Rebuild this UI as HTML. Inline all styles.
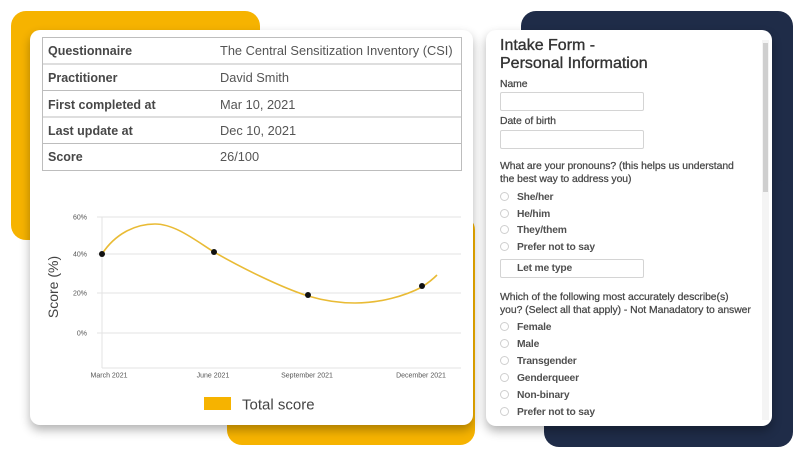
<!DOCTYPE html>
<html><head><meta charset="utf-8"><style>
*{margin:0;padding:0;box-sizing:border-box}
html,body{width:800px;height:462px;background:#fff;overflow:hidden;font-family:"Liberation Sans",sans-serif}
.a{position:absolute}
.t{position:absolute;white-space:nowrap;color:#444}
.c1{font-size:12.5px;font-weight:bold;color:#474747;left:48px}
.c2{font-size:12.8px;color:#555;left:220px}
.fl{font-size:10.4px;color:#474747;left:500px;letter-spacing:-0.05px;-webkit-text-stroke:0.25px #474747}
.rl{font-size:10.3px;color:#505050;left:517px;font-weight:bold;letter-spacing:-0.2px}
.rd{position:absolute;left:500px;width:9px;height:9px;border:1px solid #cfcfcf;border-radius:50%;background:#fff}
.inp{position:absolute;left:500px;width:144px;height:19px;border:1px solid #d4d4d4;border-radius:2px;background:#fff}
</style></head><body>
<!-- background shapes -->
<div class="a" style="left:11px;top:11px;width:249px;height:229px;background:#f6b300;border-radius:15px"></div>
<div class="a" style="left:227px;top:215px;width:248px;height:230px;background:#f6b300;border-radius:15px"></div>
<div class="a" style="left:521px;top:11px;width:272px;height:200px;background:#1f2c48;border-radius:15px"></div>
<div class="a" style="left:544px;top:180px;width:249px;height:267px;background:#1f2c48;border-radius:15px"></div>
<!-- cards -->
<div class="a" style="left:30px;top:30px;width:443px;height:395px;background:#fff;border-radius:10px;box-shadow:0 5px 10px rgba(0,0,0,0.3)"></div>
<div class="a" style="left:486px;top:30px;width:286px;height:396px;background:#fff;border-radius:10px;box-shadow:0 5px 10px rgba(0,0,0,0.3)"></div>

<svg class="a" style="left:0;top:0" width="800" height="462" viewBox="0 0 800 462">
  <!-- table -->
  <g stroke="#bdbdbd" stroke-width="1" fill="none">
    <rect x="42.5" y="37.5" width="419" height="133"/>
    <line x1="42" y1="64" x2="462" y2="64"/>
    <line x1="42" y1="90.5" x2="462" y2="90.5"/>
    <line x1="42" y1="117" x2="462" y2="117"/>
    <line x1="42" y1="143.5" x2="462" y2="143.5"/>
  </g>
  <!-- grid -->
  <g stroke="#e3e3e3" stroke-width="1">
    <line x1="97" y1="217" x2="461" y2="217"/>
    <line x1="97" y1="254" x2="461" y2="254"/>
    <line x1="97" y1="293" x2="461" y2="293"/>
    <line x1="97" y1="333" x2="461" y2="333"/>
    <line x1="102" y1="217" x2="102" y2="368"/>
    <line x1="102" y1="368" x2="461" y2="368"/>
  </g>
  <path d="M102,254 C115,234 135,224 155,224 C175,224 195,240 214,252 C240,267 280,287 308,296 C325,301 340,303 355,303 C380,303 405,296 422,287 C428,283 433,279 437,275" fill="none" stroke="#e9bb35" stroke-width="1.6"/>
  <g fill="#111">
    <circle cx="102" cy="254" r="3"/>
    <circle cx="214" cy="252" r="3"/>
    <circle cx="308" cy="295" r="3"/>
    <circle cx="422" cy="286" r="3"/>
  </g>
  <g font-family="Liberation Sans, sans-serif" font-size="7" fill="#555" text-anchor="end">
    <text x="87" y="219.5">60%</text>
    <text x="87" y="256.5">40%</text>
    <text x="87" y="295.5">20%</text>
    <text x="87" y="335.5">0%</text>
  </g>
  <g font-family="Liberation Sans, sans-serif" font-size="7" fill="#555" text-anchor="middle">
    <text x="109" y="377.5">March 2021</text>
    <text x="213" y="377.5">June 2021</text>
    <text x="307" y="377.5">September 2021</text>
    <text x="421" y="377.5">December 2021</text>
  </g>
  <text x="0" y="0" transform="translate(58,287) rotate(-90)" font-family="Liberation Sans, sans-serif" font-size="14" fill="#444" text-anchor="middle">Score (%)</text>
  <rect x="204" y="397" width="27" height="13" fill="#f6b300"/>
  <text x="242" y="409.5" font-family="Liberation Sans, sans-serif" font-size="15" fill="#444">Total score</text>
  <!-- scrollbar -->
  <rect x="762" y="40" width="7" height="380" fill="#f4f4f4"/>
  <rect x="763" y="43" width="5" height="149" fill="#cfcfcf"/>
</svg>

<!-- table text -->
<div class="t c1" style="top:44px">Questionnaire</div>
<div class="t c2" style="top:43px">The Central Sensitization Inventory (CSI)</div>
<div class="t c1" style="top:71px">Practitioner</div>
<div class="t c2" style="top:70px">David Smith</div>
<div class="t c1" style="top:98px">First completed at</div>
<div class="t c2" style="top:97px">Mar 10, 2021</div>
<div class="t c1" style="top:124px">Last update at</div>
<div class="t c2" style="top:123px">Dec 10, 2021</div>
<div class="t c1" style="top:150px">Score</div>
<div class="t c2" style="top:149px">26/100</div>

<!-- form -->
<div class="t" style="left:500px;top:37px;font-size:16px;color:#333;line-height:18px;-webkit-text-stroke:0.35px #333">Intake Form -<br>Personal Information</div>
<div class="t fl" style="top:79px">Name</div>
<div class="inp" style="top:92px"></div>
<div class="t fl" style="top:116px">Date of birth</div>
<div class="inp" style="top:130px"></div>
<div class="t fl" style="top:160px;line-height:13px">What are your pronouns? (this helps us understand<br>the best way to address you)</div>
<div class="rd" style="top:192px"></div><div class="t rl" style="top:192px">She/her</div>
<div class="rd" style="top:209px"></div><div class="t rl" style="top:209px">He/him</div>
<div class="rd" style="top:225px"></div><div class="t rl" style="top:225px">They/them</div>
<div class="rd" style="top:242px"></div><div class="t rl" style="top:242px">Prefer not to say</div>
<div class="inp" style="top:259px"></div><div class="t rl" style="top:263px">Let me type</div>
<div class="t fl" style="top:291px;line-height:13px">Which of the following most accurately describe(s)<br>you? (Select all that apply) - Not Manadatory to answer</div>
<div class="rd" style="top:322px"></div><div class="t rl" style="top:322px">Female</div>
<div class="rd" style="top:339px"></div><div class="t rl" style="top:339px">Male</div>
<div class="rd" style="top:356px"></div><div class="t rl" style="top:356px">Transgender</div>
<div class="rd" style="top:373px"></div><div class="t rl" style="top:373px">Genderqueer</div>
<div class="rd" style="top:390px"></div><div class="t rl" style="top:390px">Non-binary</div>
<div class="rd" style="top:407px"></div><div class="t rl" style="top:407px">Prefer not to say</div>
</body></html>
